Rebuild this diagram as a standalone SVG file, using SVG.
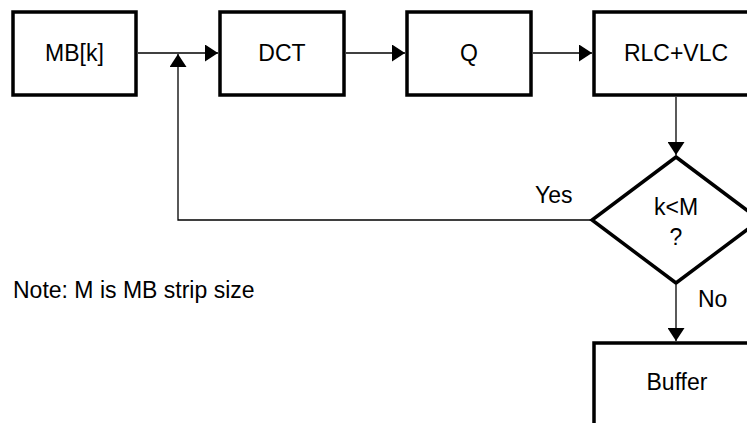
<svg xmlns="http://www.w3.org/2000/svg" width="747" height="423" viewBox="0 0 747 423">
  <style>
    .box { fill: #ffffff; stroke: #000000; stroke-width: 3.5; }
    .lbl { font-family: "Liberation Sans", Arial, sans-serif; font-size: 23px; fill: #000000; }
    .mid { text-anchor: middle; }
    .wire { fill: none; stroke: #000000; stroke-width: 1.3; }
  </style>
  <defs>
    <marker id="arrow" viewBox="0 0 13 17" refX="13" refY="8.5" markerWidth="13" markerHeight="17" markerUnits="userSpaceOnUse" orient="auto">
      <path d="M0,0 L13,8.5 L0,17 Z" fill="#000000"/>
    </marker>
  </defs>

  <rect width="747" height="423" fill="#ffffff"/>

  <g id="connectors">
    <line class="wire" x1="138" y1="53" x2="218" y2="53" marker-end="url(#arrow)"/>
    <line class="wire" x1="346" y1="53" x2="405" y2="53" marker-end="url(#arrow)"/>
    <line class="wire" x1="533" y1="53" x2="592" y2="53" marker-end="url(#arrow)"/>
    <line class="wire" x1="676" y1="97" x2="676" y2="155" marker-end="url(#arrow)"/>
    <polyline class="wire" points="592,220 178,220 178,54" marker-end="url(#arrow)"/>
    <line class="wire" x1="676" y1="285" x2="676" y2="341" marker-end="url(#arrow)"/>
    <text class="lbl" x="535" y="203">Yes</text>
    <text class="lbl" x="698" y="307">No</text>
  </g>

  <g id="mbk">
    <rect class="box" x="13" y="12" width="123" height="83"/>
    <text class="lbl mid" x="74.5" y="61">MB[k]</text>
  </g>

  <g id="dct">
    <rect class="box" x="220" y="12" width="124" height="83"/>
    <text class="lbl mid" x="282" y="61">DCT</text>
  </g>

  <g id="quant">
    <rect class="box" x="407" y="12" width="124" height="83"/>
    <text class="lbl mid" x="469" y="61">Q</text>
  </g>

  <g id="rlc-vlc">
    <rect class="box" x="594" y="12" width="164" height="83"/>
    <text class="lbl mid" x="676" y="61">RLC+VLC</text>
  </g>

  <g id="decision">
    <polygon class="box" points="676,157 760,220 676,283 592,220"/>
    <text class="lbl mid" x="676" y="215">k&lt;M</text>
    <text class="lbl mid" x="676" y="245">?</text>
  </g>

  <g id="buffer">
    <rect class="box" x="594" y="343" width="164" height="100"/>
    <text class="lbl mid" x="677" y="390">Buffer</text>
  </g>

  <text class="lbl" x="13" y="298">Note: M is MB strip size</text>
</svg>
